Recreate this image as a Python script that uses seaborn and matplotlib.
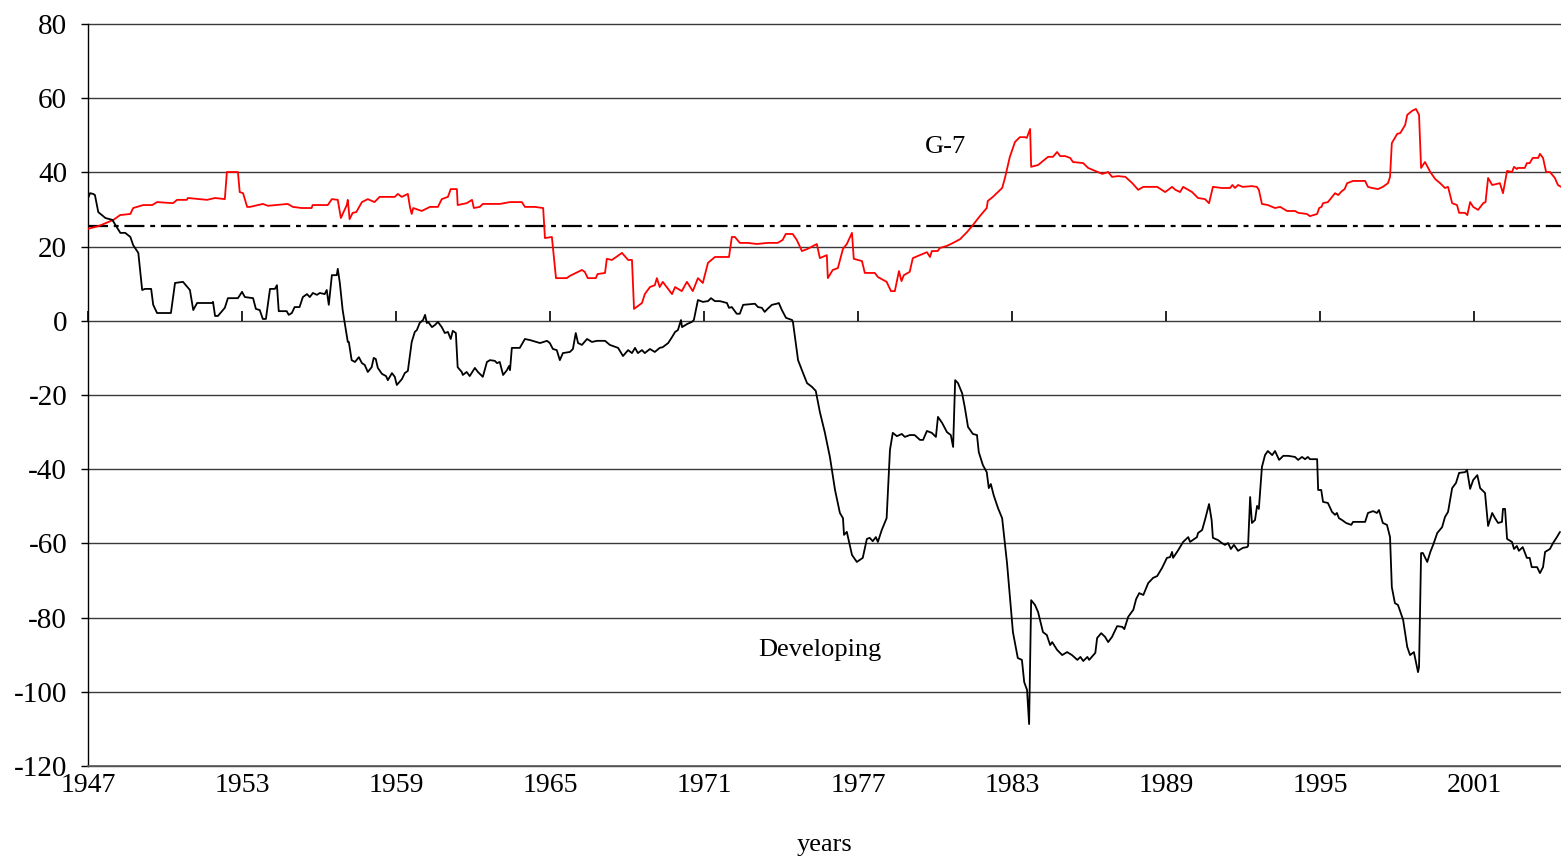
import matplotlib
matplotlib.use("Agg")
import matplotlib.pyplot as plt
import seaborn as sns
import pandas as pd

# G-7 series (year, value)
g7_years = [1947.0, 1947.4, 1947.99, 1948.25, 1948.65, 1948.76, 1949.15, 1949.5, 1949.69, 1950.31,
            1950.47, 1950.85, 1950.89, 1951.64, 1951.95, 1952.33, 1952.41, 1952.84, 1952.91, 1953.04,
            1953.2, 1953.31, 1953.81, 1954.01, 1954.78, 1954.98, 1955.32, 1955.71, 1955.75, 1956.34,
            1956.5, 1956.73, 1956.85, 1957.08, 1957.12, 1957.19, 1957.31, 1957.45, 1957.67, 1957.9,
            1958.16, 1958.36, 1958.95, 1959.07, 1959.22, 1959.46, 1959.54, 1959.61, 1959.67, 1960.0,
            1960.32, 1960.63, 1960.78, 1961.02, 1961.13, 1961.37, 1961.4, 1961.75, 1961.96, 1962.03,
            1962.26, 1962.38, 1963.05, 1963.44, 1963.9, 1964.02, 1964.41, 1964.73, 1964.8, 1965.07,
            1965.23, 1965.65, 1965.77, 1966.24, 1966.35, 1966.47, 1966.78, 1966.85, 1967.14, 1967.21,
            1967.41, 1967.8, 1968.04, 1968.19, 1968.27, 1968.58, 1968.69, 1968.89, 1969.08, 1969.16,
            1969.27, 1969.39, 1969.75, 1969.87, 1970.13, 1970.33, 1970.56, 1970.76, 1970.95, 1971.15,
            1971.42, 1971.97, 1972.08, 1972.2, 1972.39, 1972.7, 1973.06, 1973.47, 1973.87, 1974.06,
            1974.18, 1974.45, 1974.61, 1974.81, 1975.04, 1975.39, 1975.51, 1975.78, 1975.82, 1976.01,
            1976.21, 1976.41, 1976.56, 1976.76, 1976.83, 1977.15, 1977.26, 1977.65, 1977.77, 1978.11,
            1978.28, 1978.43, 1978.59, 1978.69, 1978.78, 1979.01, 1979.13, 1979.4, 1979.68, 1979.8,
            1979.87, 1980.1, 1980.18, 1980.46, 1980.7, 1980.97, 1981.24, 1981.47, 1981.74, 1982.01,
            1982.05, 1982.25, 1982.61, 1982.72, 1982.91, 1983.11, 1983.3, 1983.5, 1983.57, 1983.7,
            1983.74, 1984.01, 1984.4, 1984.59, 1984.75, 1984.87, 1985.06, 1985.26, 1985.37, 1985.77,
            1985.96, 1986.24, 1986.51, 1986.74, 1986.89, 1987.13, 1987.41, 1987.68, 1987.91, 1988.11,
            1988.65, 1988.96, 1989.23, 1989.36, 1989.54, 1989.66, 1990.01, 1990.24, 1990.51, 1990.67,
            1990.82, 1991.17, 1991.49, 1991.58, 1991.68, 1991.8, 1991.98, 1992.34, 1992.53, 1992.61,
            1992.73, 1992.96, 1993.24, 1993.44, 1993.71, 1994.02, 1994.14, 1994.48, 1994.6, 1994.88,
            1994.96, 1995.05, 1995.11, 1995.3, 1995.58, 1995.7, 1995.85, 1995.95, 1996.05, 1996.28,
            1996.75, 1996.86, 1997.02, 1997.25, 1997.44, 1997.64, 1997.72, 1997.79, 1998.0, 1998.12,
            1998.31, 1998.39, 1998.58, 1998.73, 1998.85, 1998.93, 1999.08, 1999.29, 1999.48, 1999.67,
            1999.86, 1999.98, 2000.14, 2000.33, 2000.41, 2000.64, 2000.73, 2000.84, 2000.96, 2001.15,
            2001.35, 2001.44, 2001.54, 2001.7, 2002.0, 2002.12, 2002.28, 2002.47, 2002.55, 2002.66,
            2002.7, 2002.97, 2003.05, 2003.16, 2003.28, 2003.49, 2003.56, 2003.68, 2003.8, 2003.95,
            2004.14, 2004.26, 2004.38]
g7_values = [24.8, 25.5, 27.2, 28.5, 28.8, 30.4, 31.2, 31.2, 32.0, 31.7,
             32.6, 32.6, 33.1, 32.6, 33.1, 32.8, 40.1, 40.1, 34.7, 34.4,
             30.7, 30.7, 31.5, 31.0, 31.5, 30.7, 30.4, 30.4, 31.2, 31.2,
             32.8, 32.6, 27.7, 31.2, 32.6, 27.4, 29.1, 29.3, 32.0, 32.8,
             32.0, 33.4, 33.4, 34.2, 33.4, 34.2, 30.7, 28.8, 30.4, 29.6,
             30.7, 30.7, 32.8, 33.4, 35.5, 35.5, 31.2, 31.7, 32.6, 30.4,
             30.7, 31.5, 31.5, 32.0, 32.0, 30.7, 30.7, 30.4, 22.3, 22.6,
             11.5, 11.5, 12.1, 13.7, 13.2, 11.5, 11.5, 12.6, 12.9, 16.7,
             16.4, 18.3, 16.4, 16.4, 3.2, 4.8, 7.2, 9.1, 9.6, 11.5,
             9.1, 10.5, 7.2, 9.1, 8.0, 10.5, 8.0, 11.5, 10.2, 15.6,
             17.2, 17.2, 22.6, 22.6, 21.0, 21.0, 20.7, 21.0, 21.0, 21.8,
             23.4, 23.4, 21.8, 18.8, 19.4, 20.7, 16.9, 17.7, 11.5, 13.7,
             14.2, 19.4, 20.7, 23.7, 16.7, 16.1, 12.9, 12.9, 11.8, 10.5,
             8.0, 8.0, 13.4, 10.7, 12.3, 13.2, 16.9, 17.7, 18.5, 17.2,
             18.8, 18.8, 19.6, 20.2, 21.0, 22.0, 23.9, 25.8, 28.2, 30.4,
             32.3, 33.4, 35.8, 38.5, 44.2, 48.2, 49.5, 49.5, 49.3, 51.7,
             41.5, 42.0, 44.2, 44.2, 45.5, 44.4, 44.4, 43.9, 42.8, 42.5,
             41.2, 40.4, 39.6, 40.1, 38.8, 39.0, 38.8, 37.1, 35.3, 36.1,
             36.1, 34.7, 36.1, 35.3, 34.7, 36.1, 34.7, 33.1, 32.8, 31.7,
             36.1, 35.8, 35.8, 36.6, 35.8, 36.6, 36.1, 36.3, 36.1, 35.3,
             31.5, 31.2, 30.4, 30.7, 29.6, 29.6, 29.1, 28.8, 28.2, 28.8,
             30.4, 30.7, 31.7, 32.0, 34.4, 33.9, 35.0, 35.5, 37.1, 37.7,
             37.7, 36.1, 35.8, 35.5, 36.1, 37.1, 38.8, 47.9, 50.4, 50.6,
             52.8, 55.5, 56.6, 57.1, 55.5, 41.2, 42.8, 40.1, 38.2, 37.1,
             35.8, 36.1, 31.7, 31.2, 29.1, 29.1, 28.5, 32.0, 30.7, 29.9,
             31.7, 32.0, 38.5, 36.6, 37.1, 34.4, 40.4, 40.1, 41.5, 40.9,
             41.2, 41.2, 42.5, 42.5, 43.9, 43.9, 45.0, 43.9, 40.1, 40.1,
             38.5, 36.6, 36.1]

# Developing countries series (year, value)
dev_years = [1947.0, 1947.08, 1947.2, 1947.27, 1947.4, 1947.68, 1947.95, 1948.07, 1948.26, 1948.45,
             1948.65, 1948.76, 1948.96, 1949.11, 1949.22, 1949.46, 1949.54, 1949.69, 1950.23, 1950.39,
             1950.7, 1950.97, 1951.1, 1951.25, 1951.83, 1951.87, 1951.95, 1952.06, 1952.33, 1952.45,
             1952.84, 1953.0, 1953.11, 1953.43, 1953.54, 1953.69, 1953.81, 1953.93, 1954.09, 1954.28,
             1954.36, 1954.43, 1954.74, 1954.82, 1954.94, 1955.05, 1955.24, 1955.37, 1955.53, 1955.64,
             1955.76, 1955.92, 1956.03, 1956.22, 1956.3, 1956.38, 1956.5, 1956.69, 1956.73, 1956.81,
             1956.92, 1957.0, 1957.12, 1957.16, 1957.27, 1957.4, 1957.55, 1957.67, 1957.78, 1957.9,
             1958.05, 1958.13, 1958.21, 1958.29, 1958.45, 1958.61, 1958.68, 1958.84, 1958.95, 1959.03,
             1959.23, 1959.34, 1959.46, 1959.61, 1959.73, 1959.81, 1959.92, 1960.05, 1960.13, 1960.2,
             1960.25, 1960.4, 1960.52, 1960.63, 1960.78, 1960.9, 1961.02, 1961.13, 1961.21, 1961.33,
             1961.4, 1961.56, 1961.6, 1961.75, 1961.87, 1962.07, 1962.19, 1962.38, 1962.54, 1962.66,
             1962.85, 1962.93, 1963.04, 1963.17, 1963.32, 1963.4, 1963.44, 1963.51, 1963.82, 1964.02,
             1964.22, 1964.61, 1964.88, 1964.99, 1965.11, 1965.26, 1965.38, 1965.5, 1965.77, 1965.89,
             1966.0, 1966.09, 1966.24, 1966.44, 1966.63, 1966.83, 1967.14, 1967.33, 1967.65, 1967.84,
             1968.04, 1968.19, 1968.31, 1968.42, 1968.58, 1968.69, 1968.89, 1969.08, 1969.27, 1969.39,
             1969.6, 1969.75, 1969.87, 1969.98, 1970.1, 1970.14, 1970.33, 1970.52, 1970.6, 1970.68,
             1970.76, 1970.95, 1971.15, 1971.27, 1971.42, 1971.62, 1971.89, 1971.97, 1972.08, 1972.27,
             1972.39, 1972.52, 1972.98, 1973.1, 1973.25, 1973.36, 1973.47, 1973.64, 1973.83, 1973.91,
             1974.03, 1974.19, 1974.43, 1974.46, 1974.66, 1974.81, 1975.01, 1975.2, 1975.35, 1975.51,
             1975.7, 1975.9, 1976.1, 1976.29, 1976.41, 1976.45, 1976.56, 1976.76, 1976.95, 1977.18,
             1977.34, 1977.45, 1977.57, 1977.69, 1977.77, 1977.92, 1978.11, 1978.24, 1978.35, 1978.51,
             1978.7, 1978.82, 1979.01, 1979.2, 1979.41, 1979.53, 1979.68, 1979.87, 1980.03, 1980.11,
             1980.27, 1980.46, 1980.61, 1980.7, 1980.78, 1980.89, 1981.05, 1981.16, 1981.28, 1981.47,
             1981.63, 1981.7, 1981.86, 1982.01, 1982.09, 1982.17, 1982.28, 1982.45, 1982.61, 1982.8,
             1983.03, 1983.22, 1983.38, 1983.47, 1983.58, 1983.66, 1983.74, 1983.89, 1984.01, 1984.2,
             1984.35, 1984.48, 1984.56, 1984.75, 1984.95, 1985.14, 1985.33, 1985.54, 1985.66, 1985.77,
             1985.93, 1986.0, 1986.24, 1986.31, 1986.47, 1986.62, 1986.74, 1986.89, 1987.09, 1987.29,
             1987.37, 1987.52, 1987.72, 1987.83, 1987.95, 1988.11, 1988.3, 1988.49, 1988.65, 1988.84,
             1989.03, 1989.15, 1989.23, 1989.27, 1989.47, 1989.66, 1989.86, 1989.93, 1990.2, 1990.24,
             1990.4, 1990.51, 1990.67, 1990.77, 1990.82, 1991.02, 1991.17, 1991.29, 1991.41, 1991.52,
             1991.64, 1991.8, 1991.99, 1992.15, 1992.19, 1992.27, 1992.34, 1992.46, 1992.54, 1992.61,
             1992.73, 1992.85, 1992.96, 1993.13, 1993.24, 1993.4, 1993.56, 1993.75, 1994.02, 1994.14,
             1994.29, 1994.41, 1994.52, 1994.6, 1994.88, 1994.92, 1995.04, 1995.11, 1995.3, 1995.46,
             1995.58, 1995.65, 1995.73, 1995.85, 1996.01, 1996.21, 1996.28, 1996.75, 1996.86, 1997.06,
             1997.21, 1997.29, 1997.44, 1997.6, 1997.72, 1997.79, 1997.91, 1998.03, 1998.23, 1998.39,
             1998.5, 1998.65, 1998.73, 1998.81, 1998.85, 1998.93, 1999.0, 1999.17, 1999.29, 1999.4,
             1999.56, 1999.75, 1999.86, 1999.98, 2000.14, 2000.29, 2000.41, 2000.64, 2000.72, 2000.84,
             2000.96, 2001.12, 2001.23, 2001.42, 2001.54, 2001.7, 2001.81, 2001.93, 2002.08, 2002.12,
             2002.2, 2002.28, 2002.47, 2002.55, 2002.66, 2002.74, 2002.89, 2003.05, 2003.16, 2003.24,
             2003.45, 2003.56, 2003.68, 2003.76, 2003.95, 2004.07, 2004.22, 2004.34]
dev_values = [33.0, 34.4, 34.2, 33.9, 29.3, 27.7, 27.2, 25.8, 23.7, 23.7,
              22.6, 20.4, 18.3, 8.3, 8.6, 8.6, 4.3, 2.1, 2.1, 10.2,
              10.5, 8.3, 2.9, 4.8, 4.8, 5.1, 1.3, 1.3, 3.5, 6.1,
              6.1, 7.8, 6.4, 6.1, 3.2, 2.9, 0.5, 0.5, 8.6, 8.6,
              9.6, 2.6, 2.6, 1.6, 2.1, 3.7, 3.7, 6.4, 7.2, 6.4,
              7.5, 7.0, 7.5, 7.2, 8.3, 4.3, 12.3, 12.3, 14.0, 10.2,
              2.9, -0.6, -5.7, -5.7, -10.6, -11.1, -9.8, -11.4, -11.9, -13.8,
              -12.5, -10.0, -10.3, -12.7, -14.3, -14.9, -16.0, -14.1, -15.1, -17.3,
              -15.7, -14.1, -13.5, -5.7, -3.0, -2.5, -0.6, 0.2, 1.6, -0.6,
              -0.3, -1.7, -1.1, -0.3, -1.7, -3.3, -3.0, -4.9, -2.7, -3.3,
              -12.5, -13.8, -14.6, -13.8, -14.9, -12.7, -13.8, -15.1, -11.1, -10.6,
              -10.8, -11.4, -11.1, -14.6, -13.3, -12.2, -13.3, -7.3, -7.3, -4.9,
              -5.2, -6.0, -5.4, -6.0, -7.6, -7.9, -10.6, -8.7, -8.4, -7.6,
              -3.3, -6.0, -6.5, -4.9, -5.7, -5.4, -5.4, -6.5, -7.3, -9.5,
              -7.9, -8.7, -7.3, -8.7, -7.9, -8.7, -7.6, -8.4, -7.3, -7.1,
              -6.0, -4.4, -3.0, -2.5, 0.2, -1.7, -0.9, -0.3, 0.2, 2.9,
              5.6, 5.1, 5.3, 6.1, 5.3, 5.3, 4.8, 3.5, 3.7, 1.9,
              1.9, 4.3, 4.6, 3.7, 3.5, 2.4, 3.2, 4.3, 4.6, 4.8,
              2.9, 0.8, 0.2, -0.3, -10.6, -13.3, -16.8, -17.8, -18.9, -24.6,
              -30.0, -36.7, -45.6, -51.8, -53.2, -57.7, -56.9, -63.1, -65.0, -63.9,
              -58.8, -58.5, -59.4, -58.3, -59.6, -56.4, -53.2, -34.8, -30.2, -31.1,
              -30.5, -31.3, -30.8, -30.8, -32.1, -32.1, -29.7, -30.2, -31.3, -25.9,
              -27.5, -30.0, -30.8, -34.0, -16.0, -16.8, -19.5, -23.5, -28.6, -30.5,
              -30.8, -35.4, -38.9, -40.8, -45.1, -44.0, -47.0, -50.5, -53.2, -65.3,
              -83.9, -90.9, -91.4, -97.4, -99.5, -108.7, -75.3, -76.6, -78.5, -83.9,
              -84.7, -87.4, -86.6, -88.7, -90.1, -89.3, -90.1, -91.4, -90.6, -91.7,
              -90.6, -91.4, -89.5, -85.5, -84.2, -85.2, -86.6, -85.2, -82.3, -82.5,
              -83.1, -79.8, -77.9, -75.0, -73.4, -73.9, -70.7, -69.3, -68.8, -66.6,
              -63.9, -63.7, -62.3, -63.9, -61.8, -59.6, -58.3, -59.6, -58.3, -57.2,
              -56.4, -53.7, -49.4, -53.7, -58.5, -59.1, -59.9, -60.4, -59.9, -61.5,
              -60.4, -62.0, -61.2, -61.0, -60.7, -47.5, -54.5, -53.7, -49.9, -50.7,
              -39.4, -36.2, -35.1, -36.2, -35.1, -37.5, -36.4, -36.4, -36.7, -37.5,
              -36.7, -37.3, -36.7, -37.3, -37.3, -45.6, -45.6, -48.8, -49.1, -51.5,
              -52.3, -51.8, -53.2, -53.7, -54.5, -55.0, -54.2, -54.2, -51.8, -51.3,
              -51.8, -51.0, -54.5, -55.0, -58.3, -71.8, -76.1, -76.6, -80.6, -87.9,
              -90.1, -89.3, -92.0, -94.7, -93.3, -62.6, -62.6, -65.0, -62.3, -60.4,
              -57.2, -55.6, -52.9, -51.5, -45.1, -43.7, -41.0, -40.8, -40.2, -45.3,
              -42.9, -41.6, -45.1, -46.4, -55.3, -51.8, -53.2, -54.5, -54.2, -50.7,
              -50.7, -58.8, -59.6, -61.5, -60.7, -62.0, -61.0, -63.9, -63.9, -66.4,
              -66.4, -68.0, -66.4, -62.3, -61.5, -59.9, -58.3, -56.9]

reference_level = 25.6
x_ticks = [1947, 1953, 1959, 1965, 1971, 1977, 1983, 1989, 1995, 2001]
y_ticks = [80, 60, 40, 20, 0, -20, -40, -60, -80, -100, -120]

sns.set_style("white")
plt.rcParams['font.family'] = ['Liberation Serif', 'DejaVu Serif']
plt.rcParams['axes.unicode_minus'] = False
plt.rcParams['text.color'] = 'black'
plt.rcParams['axes.labelcolor'] = 'black'
plt.rcParams['xtick.color'] = 'black'
plt.rcParams['ytick.color'] = 'black'

g7 = pd.DataFrame({'year': g7_years, 'value': g7_values})
dev = pd.DataFrame({'year': dev_years, 'value': dev_values})

fig = plt.figure(figsize=(15.61, 8.58), dpi=100)
ax = fig.add_axes([88 / 1561, 1 - 766 / 858, 1 - 88 / 1561, (766 - 24) / 858])

for y in y_ticks:
    ax.axhline(y, color='#3a3a3a', lw=1.0, zorder=0, clip_on=False)

ax.axhline(reference_level, color='black', lw=1.6, dashes=(9, 2.6, 2.2, 2.6), zorder=1)
sns.lineplot(data=g7, x='year', y='value', color='#ff0000', lw=1.3, estimator=None, ax=ax, zorder=3)
sns.lineplot(data=dev, x='year', y='value', color='black', lw=1.3, estimator=None, ax=ax, zorder=3)

ax.set_xlim(1947, 2004.38)
ax.set_ylim(-120, 80)
ax.set_yticks(y_ticks)
ax.set_xticks(x_ticks)
ax.set_ylabel('')
ax.set_xlabel('years', fontsize=19, labelpad=26)
ax.tick_params(axis='y', direction='out', length=5, width=1, pad=10, labelsize=21, left=True)
ax.tick_params(axis='x', length=0, pad=5, labelsize=20)

for side in ['top', 'right']:
    ax.spines[side].set_visible(False)
ax.spines['bottom'].set_color('#5a5a5a')
ax.spines['bottom'].set_linewidth(1.2)
ax.spines['left'].set_color('black')
ax.spines['left'].set_linewidth(1)

# x axis crossing at zero, with tick marks below it
zero_axis = ax.secondary_xaxis(120 / 200)
zero_axis.set_xticks(x_ticks)
zero_axis.set_xticklabels([])
zero_axis.tick_params(axis='x', direction='out', length=7, width=1.2, color='black')
zero_axis.spines['bottom'].set_color('black')
zero_axis.spines['bottom'].set_linewidth(1.5)
zero_axis.spines['top'].set_visible(False)

ax.text(1980.4, 46.8, 'G-7', fontsize=19, ha='center', va='center')
ax.text(1975.5, -88.7, 'Developing', fontsize=19, ha='center', va='center')

fig.savefig('out.png', dpi=100)
